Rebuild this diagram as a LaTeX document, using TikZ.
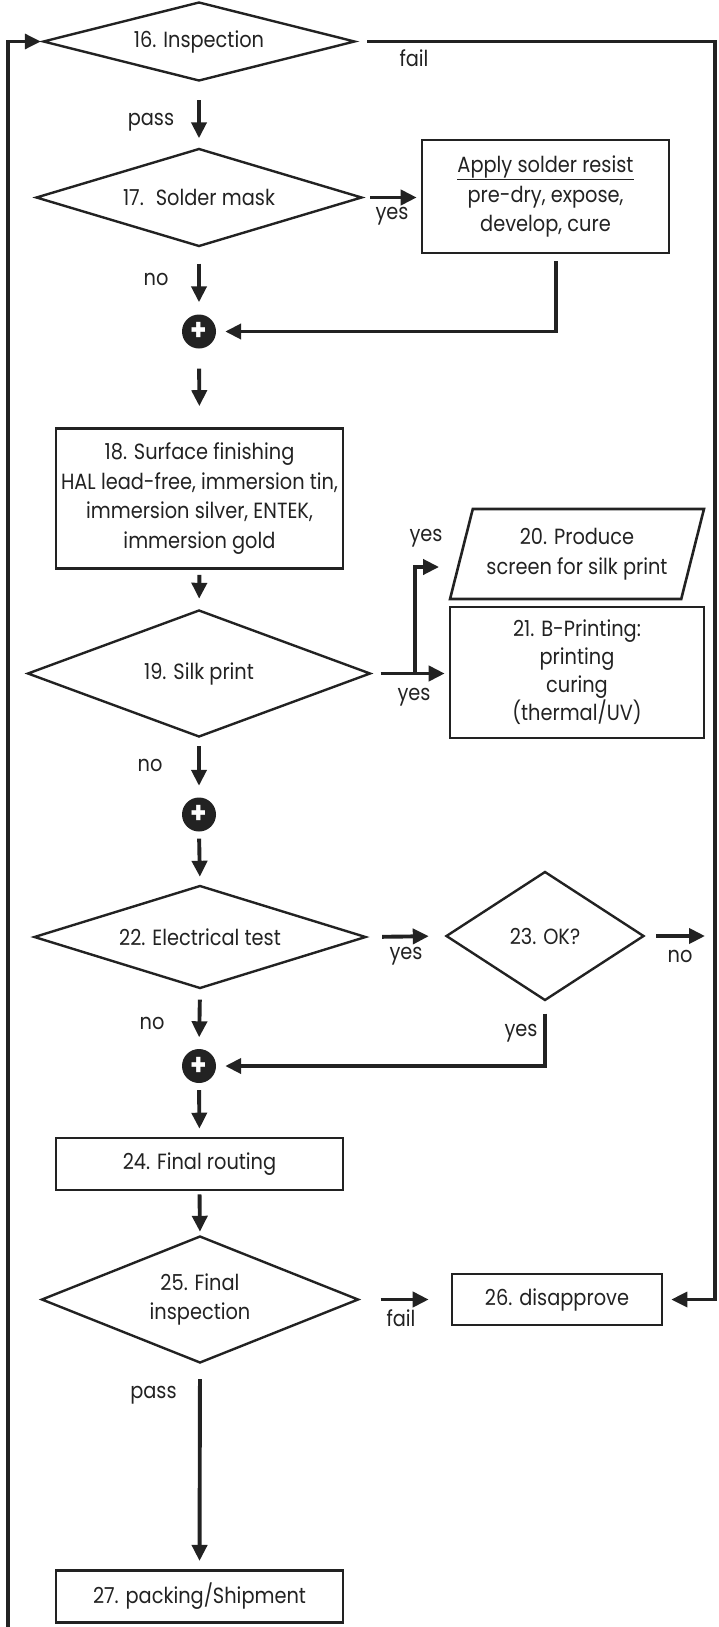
\documentclass[tikz,border=0pt]{standalone}
\usepackage{fontspec}
\setmainfont[FakeStretch=0.88]{Poppins}
\usetikzlibrary{shapes.geometric,arrows.meta}
\definecolor{ink}{HTML}{222222}
\begin{document}
\begin{tikzpicture}[x=1pt,y=-1pt,
   every node/.style={font=\fontsize{22}{29.5}\selectfont,text=ink,align=center},
   decision/.style={diamond,draw=ink,line width=2.4pt,inner sep=0pt},
   process/.style={rectangle,draw=ink,line width=2.6pt,inner sep=0pt},
   screen/.style={trapezium,trapezium left angle=69,trapezium right angle=111,trapezium stretches=true,draw=ink,line width=2.6pt,inner sep=0pt},
   junction/.style={circle,fill=ink,minimum size=34pt,inner sep=0pt,text=white,font=\fontsize{30}{30}\selectfont\bfseries},
   flow/.style={draw=ink,line width=3.9pt,-{Triangle[length=16pt,width=15pt]}},
   rail/.style={flow,line width=3.3pt}]
   \useasboundingbox (0,0) rectangle (718,1627);
   \node[decision,minimum width=312pt,minimum height=79pt,aspect=3.95] (d16) at (199,41.5) {16. Inspection};
   \node[decision,minimum width=326pt,minimum height=98pt,aspect=3.33] (d17) at (199,197.5) {17.~ Solder mask};
   \node[process,minimum width=247pt,minimum height=113pt] (apply) at (545.5,196.5) {\underline{Apply solder resist}\\pre-dry, expose,\\develop, cure};
   \node[junction] (plus1) at (199,331.5) {+};
   \node[process,minimum width=287pt,minimum height=140pt] (finish) at (199.5,498.5) {18. Surface finishing\\HAL lead-free, immersion tin,\\immersion silver, ENTEK,\\immersion gold};
   \node[decision,minimum width=343pt,minimum height=127pt,aspect=2.7] (d19) at (199,673.5) {19. Silk print};
   \node[screen,minimum width=254pt,minimum height=90pt] (produce) at (577,554) {20. Produce\\screen for silk print};
   \node[process,minimum width=254pt,minimum height=131pt,font=\fontsize{22}{28}\selectfont] (bprint) at (577,672.5) {21. B-Printing:\\printing\\curing\\(thermal/UV)};
   \node[junction] (plus2) at (199,814.5) {+};
   \node[decision,minimum width=332pt,minimum height=103pt,aspect=3.22] (d22) at (200,937) {22. Electrical test};
   \node[decision,minimum width=198pt,minimum height=129pt,aspect=1.53] (d23) at (545,936) {23. OK?};
   \node[junction] (plus3) at (199,1066) {+};
   \node[process,minimum width=287pt,minimum height=52pt] (routing) at (199.5,1164) {24. Final routing};
   \node[decision,minimum width=317pt,minimum height=127pt,aspect=2.5] (d25) at (200,1299.5) {25. Final\\inspection};
   \node[process,minimum width=210pt,minimum height=51pt] (reject) at (557,1299.5) {26. disapprove};
   \node[process,minimum width=287pt,minimum height=52.5pt] (ship) at (199.5,1596.5) {27. packing/Shipment};
   \coordinate (railL) at (8,1627);
   \coordinate (railR) at (715,0);
   \coordinate (fork) at (415,673.5);
   \coordinate (okno) at (705,936);
   \draw[rail,shorten >=1pt] (railL) |- (d16.west);
   \draw[rail,shorten <=11pt,shorten >=8pt] (d16.east) -- (d16.east -| railR) -- (railR |- reject.east) -- (reject.east);
   \draw[flow,shorten <=18pt,shorten >=9pt] (d16.south) -- (d17.north);
   \draw[flow,shorten <=7pt,shorten >=4pt] (d17.east) -- (d17.east -| apply.west);
   \draw[flow,shorten <=16pt,shorten >=12pt] (d17.south) -- (plus1.north);
   \draw[flow,shorten <=7pt,shorten >=9pt] ([xshift=10.5pt]apply.south) |- (plus1.east);
   \draw[flow,shorten <=20pt,shorten >=21pt] (plus1.south) -- (finish.north);
   \draw[flow,shorten <=5pt,shorten >=10pt] (finish.south) -- (d19.north);
   \draw[flow,shorten <=9pt,shorten >=4pt] (d19.east) -- (d19.east -| bprint.west);
   \draw[flow,shorten >=21pt] (fork) |- ([yshift=-13pt]produce.west);
   \draw[flow,shorten <=8pt,shorten >=11.5pt] (d19.south) -- (plus2.north);
   \draw[flow,shorten <=7pt,shorten >=7.5pt] (plus2.south) -- (d22.north);
   \draw[flow,shorten <=15pt,shorten >=16pt] (d22.east) -- (d23.west);
   \draw[flow,shorten <=11pt] (d23.east) -- (okno);
   \draw[flow,shorten <=10pt,shorten >=11.5pt] (d22.south) -- (plus3.north);
   \draw[flow,shorten <=12pt,shorten >=9pt] (d23.south) |- (plus3.east);
   \draw[flow,shorten <=7pt,shorten >=8pt] (plus3.south) -- (routing.north);
   \draw[flow,shorten <=3pt,shorten >=3pt] (routing.south) -- (d25.north);
   \draw[flow,shorten <=21pt,shorten >=22pt] (d25.east) -- (reject.west);
   \draw[flow,shorten <=15pt,shorten >=8pt] (d25.south) -- (ship.north);
   \node (lfail1) at (414,58) {fail};
   \node (lpass1) at (151,122) {pass};
   \node (lyes17) at (392,216) {yes};
   \node (lno17) at (156,279) {no};
   \node (lyes20) at (426,538) {yes};
   \node (lyes21) at (414,697) {yes};
   \node (lno19) at (150,765) {no};
   \node (lyes22) at (406,956) {yes};
   \node (lno23) at (680,956) {no};
   \node (lno22) at (152,1023) {no};
   \node (lyes23) at (521,1033) {yes};
   \node (lfail25) at (401,1318) {fail};
   \node (lpass25) at (153.5,1395.6) {pass};
\end{tikzpicture}
\end{document}
